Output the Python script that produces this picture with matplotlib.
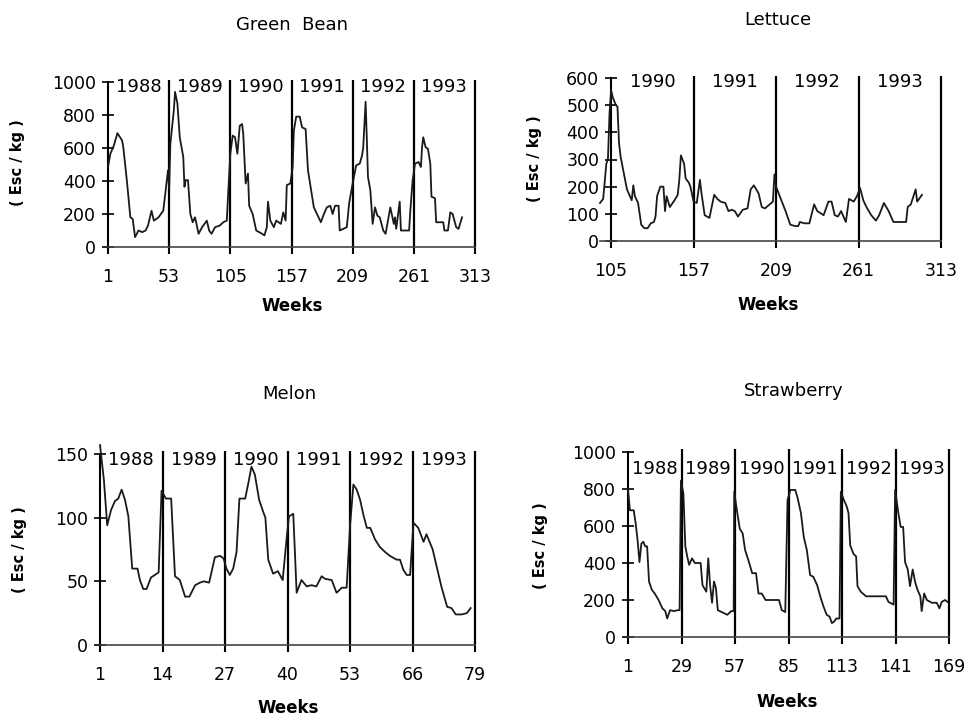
import matplotlib.pyplot as plt

plt.rcParams['font.family'] = 'DejaVu Sans'

# weekly prices (Esc/kg) ----------------------------
gb_weeks = [1, 3, 6, 9, 13, 14, 17, 20, 22, 24, 27, 30, 33, 35, 38, 40, 44, 48, 50, 52,
            53, 54, 57, 58, 60, 62, 65, 66, 67, 69, 71, 73, 75, 78, 81, 85, 87, 89, 92, 96,
            99, 102, 103, 105, 107, 109, 111, 113, 115, 116, 118, 120, 121, 124, 127, 132,
            134, 136, 137, 139, 142, 144, 148, 150, 152, 153, 156, 158, 159, 161, 164, 166,
            169, 171, 176, 178, 182, 184, 187, 190, 192, 194, 197, 198, 204, 206, 209, 212,
            215, 217, 218, 220, 221, 222, 224, 226, 228, 230, 232, 235, 237, 239, 241, 244,
            245, 246, 249, 250, 253, 257, 258, 260, 262, 265, 267, 268, 269, 271, 273, 275,
            276, 279, 280, 286, 287, 290, 292, 294, 297, 299, 302]
gb_price = [485, 565, 615, 690, 645, 605, 405, 180, 170, 60, 100, 90, 100, 130, 220, 160,
            180, 220, 345, 465, 355, 625, 830, 940, 870, 665, 545, 365, 405, 405, 200, 150,
            180, 80, 120, 160, 100, 80, 120, 130, 150, 160, 305, 565, 675, 665, 565, 735,
            745, 685, 385, 445, 250, 200, 100, 80, 70, 120, 275, 160, 120, 160, 140, 210,
            160, 375, 385, 485, 705, 790, 790, 725, 715, 465, 240, 210, 150, 190, 240, 250,
            200, 250, 250, 100, 120, 265, 385, 495, 505, 555, 605, 880, 665, 425, 345, 140,
            240, 190, 180, 100, 80, 160, 240, 140, 180, 110, 275, 100, 100, 100, 220, 405,
            505, 515, 485, 605, 665, 605, 595, 505, 305, 295, 150, 150, 100, 100, 210, 200,
            120, 110, 180]

let_weeks = [98, 100, 102, 103, 104, 105, 106, 108, 109, 110, 111, 113, 115, 118, 119, 120,
             122, 124, 126, 128, 130, 132, 133, 134, 136, 138, 139, 140, 142, 145, 147, 148,
             149, 151, 152, 154, 155, 157, 159, 161, 162, 164, 167, 170, 172, 174, 177, 179,
             181, 183, 185, 188, 191, 193, 195, 198, 200, 202, 205, 207, 208, 209, 211, 213,
             215, 218, 221, 223, 224, 227, 230, 233, 235, 239, 242, 244, 246, 248, 250, 253,
             255, 258, 260, 262, 264, 266, 269, 272, 274, 277, 280, 283, 288, 291, 292, 294,
             297, 298, 301]
let_price = [140, 155, 285, 300, 470, 555, 530, 500, 495, 360, 310, 250, 190, 150, 205, 165,
             140, 60, 47, 47, 65, 70, 90, 165, 200, 200, 110, 165, 125, 150, 170, 225,
             315, 285, 230, 215, 200, 145, 140, 225, 175, 95, 85, 170, 155, 145, 140, 110,
             115, 110, 90, 115, 120, 190, 205, 175, 125, 120, 135, 145, 245, 200, 170, 140,
             110, 60, 55, 55, 70, 65, 65, 135, 110, 95, 145, 145, 95, 90, 110, 70,
             155, 145, 165, 195, 150, 125, 95, 75, 95, 140, 110, 70, 70, 70, 125, 135,
             190, 145, 170]

mel_weeks = [1, 1.8, 2.5, 3.3, 4.1, 4.8, 5.5, 6.2, 6.9, 7.7, 8.8, 9.3, 10, 10.7, 11.6, 12.8,
             13.2, 13.8, 14.7, 15.8, 16.6, 17.6, 18.7, 19.6, 20.8, 21.8, 22.6, 23.7, 24.9, 26,
             26.7, 27.3, 28, 28.7, 29.4, 30, 31.2, 31.9, 32.5, 33.2, 34.1, 35, 35.4, 36, 37,
             38, 39, 39.8, 40.3, 41.2, 41.9, 42.9, 44, 45, 46, 47.1, 47.8, 49.2, 50.2, 51.3,
             52.3, 53, 53.7, 54.4, 55.1, 55.8, 56.5, 57.2, 58.2, 59.2, 60.3, 61.3, 62.7, 63.4,
             64.1, 64.8, 65.5, 66.2, 67.2, 68.3, 68.9, 70.2, 71, 72, 73.2, 74.1, 75, 76.2,
             77.3, 78.1]
mel_price = [157, 130, 94, 106, 113, 115, 122, 114, 101, 60, 60, 51, 44, 44, 53, 56,
             57, 121, 115, 115, 54, 51, 38, 38, 47, 49, 50, 49, 69, 70,
             68, 60, 55, 60, 73, 115, 115, 128, 140, 134, 114, 104, 100, 67, 56,
             58, 51, 83, 101, 103, 41, 51, 46, 47, 46, 54, 52, 51, 41, 45,
             45, 93, 126, 122, 114, 102, 92, 92, 83, 77, 73, 70, 67, 67,
             59, 55, 55, 96, 92, 81, 87, 75, 62, 46, 30, 29, 24, 24,
             25, 29]

str_weeks = [1, 2, 4, 5, 6, 7, 8, 9, 10, 11, 12, 13.5, 15, 17, 19, 20.5, 21.5, 23, 25, 27,
             28, 28.7, 30, 31, 32, 33, 34.5, 36, 39, 40, 42, 43, 44, 45, 46, 47, 48, 50, 53,
             55, 56.3, 56.6, 58, 59.5, 61, 62.3, 64, 66, 68, 69.3, 71, 73, 76, 80, 81.5, 83.3,
             84.5, 86, 88.5, 89.7, 91.5, 93, 94.6, 96.3, 98, 100, 101.6, 103.3, 105, 106.5,
             107.7, 109, 110, 111.7, 112.4, 114, 115.5, 116.4, 117.3, 119, 120.4, 121.1, 122.8,
             125.6, 130, 133, 136, 137.3, 140, 140.8, 142.5, 143.7, 145, 146, 147.4, 148.6,
             150, 151.2, 152.5, 154, 154.7, 156, 157.4, 160, 162.6, 164, 165.2, 167, 168.2]
str_price = [800, 685, 685, 615, 525, 405, 505, 515, 490, 490, 300, 255, 235, 200, 155, 140,
             100, 145, 140, 145, 145, 845, 775, 490, 435, 390, 425, 400, 400, 280, 245, 425,
             275, 185, 300, 265, 145, 135, 120, 140, 140, 785, 685, 585, 560, 470, 415, 345,
             345, 235, 235, 200, 200, 200, 145, 135, 740, 795, 795, 755, 670, 540, 470, 335,
             325, 280, 220, 165, 120, 110, 75, 85, 100, 100, 785, 740, 705, 670, 495, 450,
             435, 275, 245, 220, 220, 220, 220, 190, 175, 795, 670, 595, 595, 405, 365, 275,
             365, 300, 255, 220, 140, 235, 200, 185, 185, 155, 190, 200, 190]

gb_bounds = [1, 53, 105, 157, 209, 261, 313]
let_bounds = [105, 157, 209, 261, 313]
mel_bounds = [1, 14, 27, 40, 53, 66, 79]
str_bounds = [1, 29, 57, 85, 113, 141, 169]
years_all = ['1988', '1989', '1990', '1991', '1992', '1993']
years_let = ['1990', '1991', '1992', '1993']

W, H = 970, 718
fig = plt.figure(figsize=(W / 100, H / 100), dpi=100)


def add_ax(left, right, top, bottom):
    # place an axes by pixel edges
    return fig.add_axes([left / W, 1 - bottom / H, (right - left) / W, (bottom - top) / H])


def panel(ax, weeks, price, xlim, ymax, yticks, bounds, years, year_y, spine_x=None):
    ax.plot(weeks, price, color='#1a1a1a', lw=1.3, clip_on=False, zorder=3)
    ax.set_xlim(*xlim)
    ax.set_ylim(0, ymax)
    ax.set_xticks(bounds)
    ax.set_yticks(yticks)
    for s in ['top', 'right']:
        ax.spines[s].set_visible(False)
    if spine_x is not None:
        ax.spines['left'].set_position(('data', spine_x))
    ax.spines['left'].set_linewidth(1.5)
    ax.spines['bottom'].set_linewidth(1.2)
    ax.spines['bottom'].set_color('#444444')
    ax.tick_params(axis='y', direction='inout', length=9, width=1.2, pad=4, labelsize=12.5)
    ax.tick_params(axis='x', direction='out', length=5, width=1.5, pad=10, labelsize=12.5)
    ax.vlines(bounds[1:], 0, ymax * 1.015, color='black', lw=1.6, clip_on=False)
    for i, yr in enumerate(years):
        ax.text((bounds[i] + bounds[i + 1]) / 2, year_y, yr, ha='center', va='center',
                fontsize=13)


ax1 = add_ax(108, 475, 82, 247)
panel(ax1, gb_weeks, gb_price, (1, 313), 1000, range(0, 1001, 200), gb_bounds, years_all, 970)

ax2 = add_ax(600, 941, 78, 241)
panel(ax2, let_weeks, let_price, (98, 313), 600, range(0, 601, 100), let_bounds, years_let,
      585, spine_x=105)

ax3 = add_ax(100, 475, 454, 645)
panel(ax3, mel_weeks, mel_price, (1, 79), 150, [0, 50, 100, 150], mel_bounds, years_all, 145)

ax4 = add_ax(628, 949, 452, 637)
panel(ax4, str_weeks, str_price, (1, 169), 1000, range(0, 1001, 200), str_bounds, years_all, 910)

# titles, axis labels
for x, y, t in [(292, 25, 'Green  Bean'), (778, 20, 'Lettuce'),
                (289, 394, 'Melon'), (794, 391, 'Strawberry')]:
    fig.text(x / W, 1 - y / H, t, ha='center', va='center', fontsize=13)

for x, y in [(292, 306), (768, 305), (288, 708), (787, 702)]:
    fig.text(x / W, 1 - y / H, 'Weeks', ha='center', va='center', fontsize=12,
             fontweight='bold')

for x, y in [(18, 163), (535, 159), (20, 550), (540, 546)]:
    fig.text(x / W, 1 - y / H, '( Esc / kg )', ha='center', va='center', fontsize=10.5,
             fontweight='bold', rotation=90)

plt.savefig('out.png', dpi=100)
